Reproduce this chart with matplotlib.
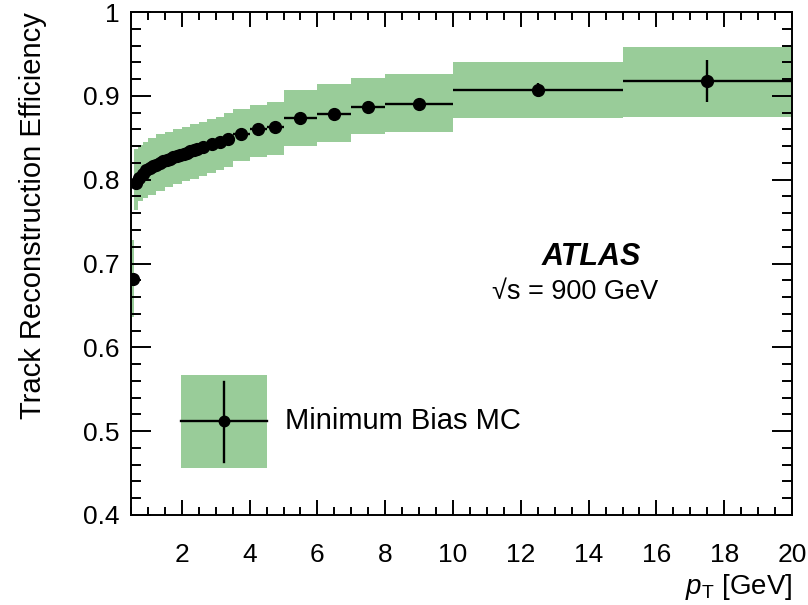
import matplotlib
matplotlib.use("Agg")
import matplotlib.pyplot as plt
from matplotlib.patches import Rectangle
from matplotlib.lines import Line2D
from matplotlib.ticker import MultipleLocator, FixedLocator, FixedFormatter

plt.rcParams['font.family'] = ['Liberation Sans', 'DejaVu Sans']
plt.rcParams['mathtext.fontset'] = 'custom'
plt.rcParams['mathtext.rm'] = 'Liberation Sans'
plt.rcParams['mathtext.it'] = 'Liberation Sans:italic'

# ---- data ----
# point bins (GeV)
pt_lo = [0.5, 0.6, 0.7, 0.8, 0.9, 1.0, 1.1, 1.2, 1.3, 1.4, 1.5, 1.6, 1.7, 1.8, 1.9,
         2.0, 2.1, 2.2, 2.3, 2.4, 2.5, 2.75, 3.0, 3.25, 3.5, 4.0, 4.5, 5.0, 6.0, 7.0,
         8.0, 10.0, 15.0]
pt_hi = [0.6, 0.7, 0.8, 0.9, 1.0, 1.1, 1.2, 1.3, 1.4, 1.5, 1.6, 1.7, 1.8, 1.9, 2.0,
         2.1, 2.2, 2.3, 2.4, 2.5, 2.75, 3.0, 3.25, 3.5, 4.0, 4.5, 5.0, 6.0, 7.0, 8.0,
         10.0, 15.0, 20.0]
efficiency = [0.682, 0.796, 0.802, 0.807, 0.811, 0.814, 0.816, 0.818, 0.820, 0.822,
              0.824, 0.825, 0.827, 0.828, 0.830, 0.831, 0.832, 0.834, 0.835, 0.836,
              0.839, 0.843, 0.845, 0.848, 0.854, 0.861, 0.863, 0.873, 0.878, 0.887,
              0.890, 0.907, 0.918]
stat_err = [0.003, 0.002, 0.002, 0.002, 0.002, 0.002, 0.002, 0.002, 0.002, 0.002,
            0.002, 0.002, 0.002, 0.002, 0.002, 0.002, 0.002, 0.002, 0.002, 0.002,
            0.002, 0.002, 0.002, 0.002, 0.002, 0.003, 0.003, 0.003, 0.003, 0.003,
            0.004, 0.008, 0.025]

# systematic band bins
band_lo_edge = [0.5, 0.6, 0.7, 0.85, 1.0, 1.25, 1.5, 1.75, 2.0, 2.25, 2.5, 2.75, 3.0,
                3.25, 3.5, 4.0, 4.5, 5.0, 6.0, 7.0, 8.0, 10.0, 15.0]
band_hi_edge = [0.6, 0.7, 0.85, 1.0, 1.25, 1.5, 1.75, 2.0, 2.25, 2.5, 2.75, 3.0, 3.25,
                3.5, 4.0, 4.5, 5.0, 6.0, 7.0, 8.0, 10.0, 15.0, 20.0]
band_low = [0.636, 0.764, 0.774, 0.778, 0.782, 0.787, 0.791, 0.795, 0.798, 0.801,
            0.804, 0.808, 0.811, 0.815, 0.822, 0.827, 0.829, 0.840, 0.845, 0.855,
            0.857, 0.873, 0.875]
band_high = [0.728, 0.836, 0.841, 0.845, 0.850, 0.854, 0.857, 0.860, 0.863, 0.866,
             0.869, 0.872, 0.875, 0.879, 0.884, 0.889, 0.893, 0.907, 0.914, 0.921,
             0.926, 0.940, 0.958]

y_ticks = [0.4, 0.5, 0.6, 0.7, 0.8, 0.9, 1.0]
y_tick_labels = ["0.4", "0.5", "0.6", "0.7", "0.8", "0.9", "1"]
x_ticks = [2, 4, 6, 8, 10, 12, 14, 16, 18, 20]

GREEN = "#99cc99"

fig = plt.figure(figsize=(8.08, 6.05), dpi=100)
ax = fig.add_axes([131/808, 1 - 515/605, (792-131)/808, (515-12)/605])

# band
widths = [h - l for l, h in zip(band_lo_edge, band_hi_edge)]
heights = [h - l for l, h in zip(band_low, band_high)]
ax.bar(band_lo_edge, heights, width=widths, bottom=band_low, align='edge',
       color=GREEN, linewidth=0, zorder=1)

# points
centers = [(l + h) / 2 for l, h in zip(pt_lo, pt_hi)]
xerr = [(h - l) / 2 for l, h in zip(pt_lo, pt_hi)]
ax.errorbar(centers, efficiency, xerr=xerr, yerr=stat_err, fmt='o', color='black',
            markersize=8.5, elinewidth=1.7, capsize=0, zorder=3)

ax.set_xlim(0.5, 20)
ax.set_ylim(0.4, 1.0)

ax.xaxis.set_major_locator(FixedLocator(x_ticks))
ax.xaxis.set_minor_locator(MultipleLocator(0.5))
ax.yaxis.set_major_locator(FixedLocator(y_ticks))
ax.yaxis.set_major_formatter(FixedFormatter(y_tick_labels))
ax.yaxis.set_minor_locator(MultipleLocator(0.02))

ax.tick_params(which='both', direction='in', top=True, right=True, width=1.4,
               labelsize=19)
ax.tick_params(axis='x', which='major', length=11, pad=20)
ax.tick_params(axis='x', which='minor', length=5.5)
ax.tick_params(axis='y', which='major', length=14.5, pad=8)
ax.tick_params(axis='y', which='minor', length=7.2)
for s in ax.spines.values():
    s.set_linewidth(1.4)

ax.set_ylabel("Track Reconstruction Efficiency", fontsize=21, loc='top', labelpad=26)
ax.set_xlabel(r"$p_{\mathrm{T}}$ [GeV]", fontsize=20, loc='right', labelpad=4)

# ATLAS label
ax.text(0.696, 0.512, "ATLAS", transform=ax.transAxes, fontsize=22,
        fontweight='bold', fontstyle='italic', ha='center', va='center')
ax.text(0.672, 0.443, "\u221as = 900 GeV", transform=ax.transAxes, fontsize=19.5,
        ha='center', va='center')

# legend (manual, axes coordinates)
lx0, lx1 = (181-131)/661, (267-131)/661
ly0, ly1 = 1 - (468-12)/503, 1 - (375-12)/503
lxc = (224-131)/661
lyc = 1 - (421-12)/503
ax.add_patch(Rectangle((lx0, ly0), lx1 - lx0, ly1 - ly0, transform=ax.transAxes,
                       color=GREEN, linewidth=0, zorder=2))
ax.add_line(Line2D([lx0, lx1], [lyc, lyc], transform=ax.transAxes, color='black', lw=1.7, zorder=3))
ax.add_line(Line2D([lxc, lxc], [1-(462-12)/503, 1-(382-12)/503], transform=ax.transAxes,
                   color='black', lw=1.7, zorder=3))
ax.add_line(Line2D([lxc], [lyc], transform=ax.transAxes, marker='o', color='black',
                   markersize=7.5, zorder=4))
ax.text((285-131)/661, lyc, "Minimum Bias MC", transform=ax.transAxes, fontsize=21,
        ha='left', va='center')

fig.savefig("out.png", dpi=100)
